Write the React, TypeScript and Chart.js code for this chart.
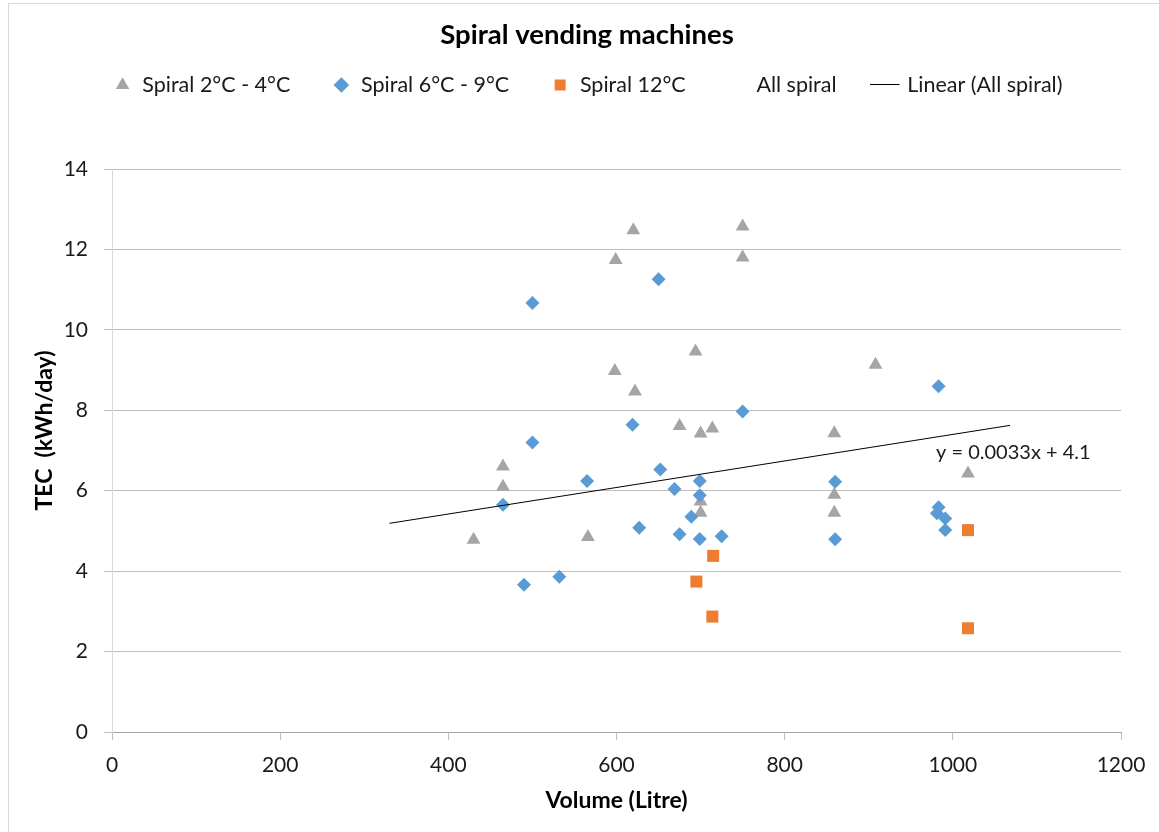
import React, { useEffect, useRef } from 'react';
import { Chart, registerables } from 'chart.js';

Chart.register(...registerables);

const chartTitle = 'Spiral vending machines';
const seriesNames = ['Spiral 2°C - 4°C', 'Spiral 6°C - 9°C', 'Spiral 12°C', 'All spiral', 'Linear (All spiral)'];
const xAxisTitle = 'Volume (Litre)';
const yAxisTitle = 'TEC  (kWh/day)';

// Spiral 2°C - 4°C (grey triangles)
const lowTempX = [430, 465, 465, 566, 599, 620, 598, 622, 675, 694, 700, 714, 700, 700, 750, 750, 908, 859, 859, 859, 1018];
const lowTempY = [4.78, 6.6, 6.1, 4.85, 11.74, 12.48, 8.98, 8.47, 7.61, 9.46, 7.42, 7.55, 5.73, 5.45, 12.57, 11.8, 9.13, 7.43, 5.9, 5.45, 6.43];

// Spiral 6°C - 9°C (blue diamonds)
const midTempX = [500, 650, 500, 619, 750, 565, 652, 669, 699, 699, 689, 465, 627, 675, 699, 725, 490, 532, 860, 860, 983, 983, 981, 991, 991];
const midTempY = [10.67, 11.26, 7.2, 7.64, 7.97, 6.24, 6.53, 6.04, 6.24, 5.89, 5.35, 5.65, 5.08, 4.92, 4.8, 4.87, 3.66, 3.86, 6.22, 4.79, 8.6, 5.59, 5.44, 5.31, 5.02];

// Spiral 12°C (orange squares)
const highTempX = [715, 695, 714, 1018, 1018];
const highTempY = [4.38, 3.74, 2.87, 5.02, 2.58];

// Linear trendline (All spiral)
const trendSlope = 0.0033;
const trendIntercept = 4.1;
const trendXRange = [330, 1068];
const trendLabel = 'y = 0.0033x + 4.1';
const trendLabelAnchor = [980, 6.96];

const xMin = 0, xMax = 1200, xStep = 200;
const yMin = 0, yMax = 14, yStep = 2;

const FONT = 'Lato, "Open Sans", sans-serif';
const TEXT = '#1a1a1a';

function toPoints(xs: number[], ys: number[]) {
  return xs.map((x, i) => ({ x, y: ys[i] }));
}

export default function App() {
  const canvasRef = useRef<HTMLCanvasElement>(null);

  useEffect(() => {
    const canvas = canvasRef.current;
    if (!canvas) return;

    const low = toPoints(lowTempX, lowTempY);
    const mid = toPoints(midTempX, midTempY);
    const high = toPoints(highTempX, highTempY);
    const all = [...low, ...mid, ...high];
    const trend = trendXRange.map((x) => ({ x, y: trendSlope * x + trendIntercept }));

    const lineIcon = document.createElement('canvas');
    lineIcon.width = 36;
    lineIcon.height = 2;
    const lctx = lineIcon.getContext('2d');
    if (lctx) {
      lctx.fillStyle = '#000000';
      lctx.fillRect(0, 0, 30, 1);
    }

    const layoutTweakPlugin = {
      id: 'layoutTweak',
      afterInit(chart: any) {
        const legend = chart.legend;
        if (!legend) return;
        const origFit = legend.fit.bind(legend);
        legend.fit = function () {
          origFit();
          this.height = 136.75;
        };
      },
      afterLayout(chart: any) {
        if (chart.titleBlock) {
          chart.titleBlock.left += 22;
          chart.titleBlock.right += 22;
        }
        if (chart.legend) {
          chart.legend.left += 23;
          chart.legend.right += 23;
        }
      },
    };

    const textPlugin = {
      id: 'extraText',
      afterDatasetsDraw(chart: any) {
        const { ctx, scales } = chart;
        ctx.save();
        ctx.font = `20px ${FONT}`;
        ctx.fillStyle = TEXT;
        ctx.textAlign = 'left';
        ctx.textBaseline = 'middle';
        ctx.fillText(
          trendLabel,
          scales.x.getPixelForValue(trendLabelAnchor[0]),
          scales.y.getPixelForValue(trendLabelAnchor[1])
        );
        ctx.restore();
      },
      afterDraw(chart: any) {
        const { ctx } = chart;
        ctx.save();
        ctx.font = `bold 23px ${FONT}`;
        ctx.fillStyle = '#000000';
        ctx.textAlign = 'center';
        ctx.textBaseline = 'middle';
        ctx.translate(36, 426.5);
        ctx.rotate(-Math.PI / 2);
        ctx.fillText(yAxisTitle, 0, 0);
        ctx.restore();
      },
    };

    const chart = new Chart(canvas, {
      type: 'scatter',
      data: {
        datasets: [
          {
            label: seriesNames[0],
            data: low,
            pointStyle: 'triangle',
            pointRadius: 8,
            backgroundColor: '#A5A5A5',
            borderColor: '#A5A5A5',
            borderWidth: 0,
            order: 5,
          },
          {
            label: seriesNames[1],
            data: mid,
            pointStyle: 'rectRot',
            pointRadius: 7,
            backgroundColor: '#5B9BD5',
            borderColor: '#5B9BD5',
            borderWidth: 0,
            order: 4,
          },
          {
            label: seriesNames[2],
            data: high,
            pointStyle: 'rect',
            pointRadius: 8.5,
            backgroundColor: '#ED7D31',
            borderColor: '#ED7D31',
            borderWidth: 0,
            order: 3,
          },
          {
            label: seriesNames[3],
            data: all,
            pointRadius: 0,
            backgroundColor: 'rgba(0,0,0,0)',
            borderColor: 'rgba(0,0,0,0)',
            borderWidth: 0,
            order: 2,
          },
          {
            type: 'line',
            label: seriesNames[4],
            data: trend,
            showLine: true,
            pointRadius: 0,
            pointStyle: lineIcon as any,
            borderColor: '#000000',
            backgroundColor: '#000000',
            borderWidth: 1,
            fill: false,
            order: 1,
          } as any,
        ],
      },
      options: {
        animation: false,
        responsive: false,
        maintainAspectRatio: false,
        layout: { padding: { left: 0, right: 38, top: 0, bottom: 0 } },
        plugins: {
          title: {
            display: true,
            text: chartTitle,
            color: '#000000',
            font: { family: FONT, size: 27.5, weight: 'bold' },
            padding: { top: 14.5, bottom: -19.25 },
          },
          legend: {
            display: true,
            position: 'top',
            labels: {
              usePointStyle: true,
              boxWidth: 18,
              boxHeight: 11,
              padding: 42,
              color: TEXT,
              font: { family: FONT, size: 21.5 },
              sort: (a: any, b: any) => a.datasetIndex - b.datasetIndex,
            },
          },
          tooltip: { enabled: false },
        },
        scales: {
          x: {
            type: 'linear',
            min: xMin,
            max: xMax,
            ticks: {
              stepSize: xStep,
              color: TEXT,
              font: { family: FONT, size: 21 },
              padding: 13,
              maxRotation: 0,
              callback: (v: any) => String(v),
            },
            grid: {
              display: true,
              drawOnChartArea: false,
              drawTicks: true,
              tickLength: 8,
              color: '#bfbfbf',
            },
            border: { display: true, color: '#a6a6a6', width: 1 },
            title: {
              display: true,
              text: xAxisTitle,
              color: '#000000',
              font: { family: FONT, size: 23, weight: 'bold' },
              padding: { top: 0, bottom: 18 },
            },
            afterFit(scale: any) {
              scale.height = 100;
            },
          },
          y: {
            type: 'linear',
            min: yMin,
            max: yMax,
            ticks: {
              stepSize: yStep,
              color: TEXT,
              font: { family: FONT, size: 21 },
              padding: 16,
              callback: (v: any) => String(v),
            },
            grid: {
              color: '#bfbfbf',
              drawTicks: true,
              tickLength: 8,
            },
            border: { display: true, color: '#d9d9d9', width: 1 },
            title: { display: false },
            afterFit(scale: any) {
              scale.width = 103;
            },
          },
        },
      },
      plugins: [layoutTweakPlugin, textPlugin],
    });

    return () => chart.destroy();
  }, []);

  return (
    <div
      style={{
        position: 'absolute',
        left: 8,
        top: 3,
        borderLeft: '1px solid #d9d9d9',
        borderTop: '1px solid #d9d9d9',
        background: '#ffffff',
      }}
    >
      <canvas ref={canvasRef} width={1150} height={828} style={{ display: 'block', width: 1150, height: 828 }} />
    </div>
  );
}
